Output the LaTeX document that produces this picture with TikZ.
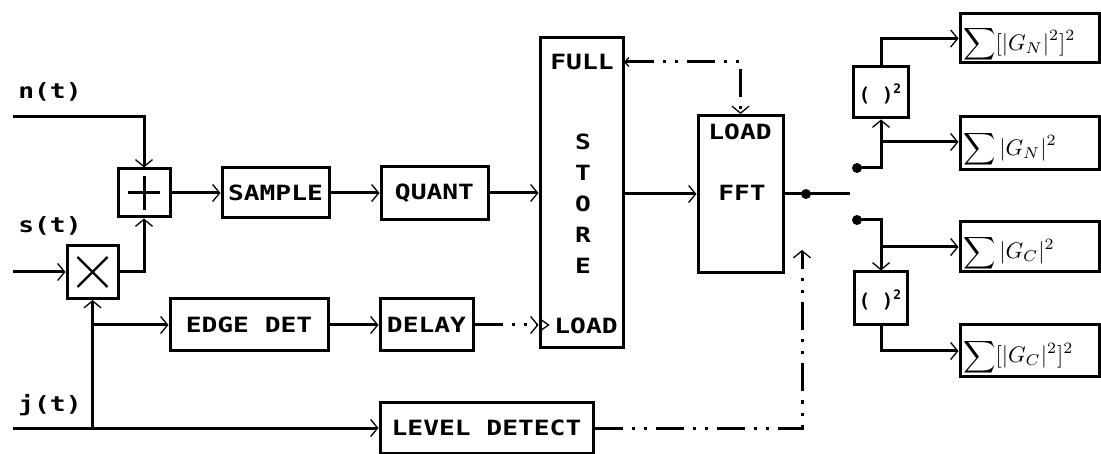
\documentclass[tikz,border=0pt]{standalone}
\usepackage{fontspec}
\newfontfamily\plotfont[FakeStretch=1.25]{DejaVu Sans Mono Bold}
\newfontfamily\plotplain{DejaVu Sans Mono Bold}
\usetikzlibrary{arrows.meta}
\begin{document}
\begin{tikzpicture}[x=1pt,y=-1pt, line width=3pt,
  box/.style={draw, rectangle, inner sep=0pt, font=\plotfont\fontsize{21}{24}\selectfont},
  lbl/.style={inner sep=0pt, font=\plotfont\fontsize{21}{24}\selectfont},
  mlbl/.style={inner sep=0pt, font=\fontsize{10}{12}\selectfont},
  sqlbl/.style={inner sep=0pt, font=\plotplain\fontsize{19}{22}\selectfont},
  dot/.style={circle, fill, inner sep=0pt, minimum size=10pt},
  >={Straight Barb[length=7pt,width=17pt,line width=1.3pt]},
  dd/.style={dash pattern=on 28pt off 9pt on 3pt off 9pt on 3pt off 9pt}]
\useasboundingbox (0,0) rectangle (1101,454);

% input labels
\node[lbl] (nlab) at (50,92) {n(t)};
\node[lbl] (slab) at (50,226) {s(t)};
\node[lbl] (jlab) at (50,405) {j(t)};
\coordinate (nst) at (13,117);
\coordinate (sst) at (13,272);
\coordinate (jst) at (13,428);

% boxes
\node[box, minimum width=52pt, minimum height=48pt] (plus) at (144,193) {};
\node[box, minimum width=51pt, minimum height=53pt] (times) at (92.5,272) {};
\node[box, minimum width=107pt, minimum height=50pt] (sample) at (275.5,193) {SAMPLE};
\node[box, minimum width=107pt, minimum height=53pt] (quant) at (434.5,193) {QUANT};
\node[box, minimum width=158pt, minimum height=52pt] (edge) at (249,325) {EDGE DET};
\node[box, minimum width=93pt, minimum height=52pt] (delay) at (426.5,325) {DELAY};
\node[box, minimum width=83pt, minimum height=310pt] (store) at (581.5,193) {};
\node[box, minimum width=85pt, minimum height=157pt] (fft) at (740.5,194) {};
\node[box, minimum width=213pt, minimum height=50pt] (level) at (486.5,428) {LEVEL DETECT};
\node[box, minimum width=55pt, minimum height=51pt] (sq1) at (881,92.5) {};
\node[box, minimum width=53pt, minimum height=53pt] (sq2) at (881,298.5) {};
\node[box, minimum width=139pt, minimum height=49pt] (b1) at (1029.5,38.5) {};
\node[box, minimum width=139pt, minimum height=53pt] (b2) at (1029.5,143.5) {};
\node[box, minimum width=139pt, minimum height=50pt] (b3) at (1029.5,247) {};
\node[box, minimum width=139pt, minimum height=52pt] (b4) at (1029.5,351) {};

% inner symbols and texts
\draw ([xshift=-16pt]plus.center) -- ([xshift=16pt]plus.center);
\draw ([yshift=-17pt]plus.center) -- ([yshift=17pt]plus.center);
\draw[line width=2.4pt] ([shift={(-15pt,15pt)}]times.center) -- ([shift={(15pt,-15pt)}]times.center);
\draw[line width=2.4pt] ([shift={(-15pt,-15pt)}]times.center) -- ([shift={(15pt,15pt)}]times.center);
\node[lbl] (fullt) at (582,62) {FULL};
\node[lbl, align=center, font=\plotfont\fontsize{21}{31}\selectfont] (storet) at (583,204) {S\\T\\O\\R\\E};
\node[lbl] (sloadt) at (586,326) {LOAD};
\node[lbl] (floadt) at (740,132) {LOAD};
\node[lbl] (fftt) at (742,193) {FFT};
\node[sqlbl] (sq1t) at (880,94) {( )\raisebox{8pt}{\fontsize{13}{13}\selectfont 2}};
\node[sqlbl] (sq2t) at (880,300) {( )\raisebox{8pt}{\fontsize{13}{13}\selectfont 2}};
\node[mlbl, anchor=west] (b1t) at ([shift={(3pt,-6pt)}]b1.west) {\scalebox{2.25}{$\displaystyle\sum[|G_N|^2]^2$}};
\node[mlbl, anchor=west] (b2t) at ([shift={(3pt,-6pt)}]b2.west) {\scalebox{2.25}{$\displaystyle\sum|G_N|^2$}};
\node[mlbl, anchor=west] (b3t) at ([shift={(3pt,-6pt)}]b3.west) {\scalebox{2.25}{$\displaystyle\sum|G_C|^2$}};
\node[mlbl, anchor=west] (b4t) at ([shift={(3pt,-6pt)}]b4.west) {\scalebox{2.25}{$\displaystyle\sum[|G_C|^2]^2$}};

% signal paths
\draw[->] (nst) -| (plus.north);
\draw[->] (sst) -- (times.west);
\draw[->] (times.east) -| (plus.south);
\draw[->] (plus.east) -- (sample.west);
\draw[->] (sample.east) -- (quant.west);
\draw[->] (quant.east) -- (store.west |- quant.east);
\coordinate (jb) at (92.5,428);
\coordinate (eb) at (92.5,325);
\draw[->] (jst) -- (level.west);
\draw[->] (jb) -- (times.south);
\draw[->] (eb) -- (edge.west);
\draw[->] (edge.east) -- (delay.west);
\draw[dd,->] (delay.east) -- (store.west |- delay.east);
\draw[line width=1.3pt] ([shift={(3pt,-5pt)}]store.west |- delay.east) -- ([shift={(10pt,0pt)}]store.west |- delay.east) -- ([shift={(3pt,5pt)}]store.west |- delay.east);
\draw[->] (store.east |- fft.west) -- (fft.west);
\coordinate (fullc) at (624,62);
\draw[dd, {Straight Barb[length=4pt,width=9pt,line width=1.3pt]}->] (fullc) -| (fft.north);
\coordinate (swend) at (850,194);
\draw (fft.east) -- (swend);
\node[dot] (d0) at (806,194) {};
\coordinate (ctl) at (802,250);
\draw[dd,->] (level.east) -| (ctl);

% switch outputs
\node[dot] (su) at (857,168) {};
\node[dot] (sl) at (857,220) {};
\draw[->] (su.center) -| (sq1.south);
\coordinate (j1) at (881,142);
\draw[->] (j1) -- (b2.west |- j1);
\draw[->] (sq1.north) |- (b1.west);
\draw[->] (sl.center) -| (sq2.north);
\coordinate (j2) at (881,247);
\draw[->] (j2) -- (b3.west);
\draw[->] (sq2.south) |- (b4.west);
\end{tikzpicture}
\end{document}
